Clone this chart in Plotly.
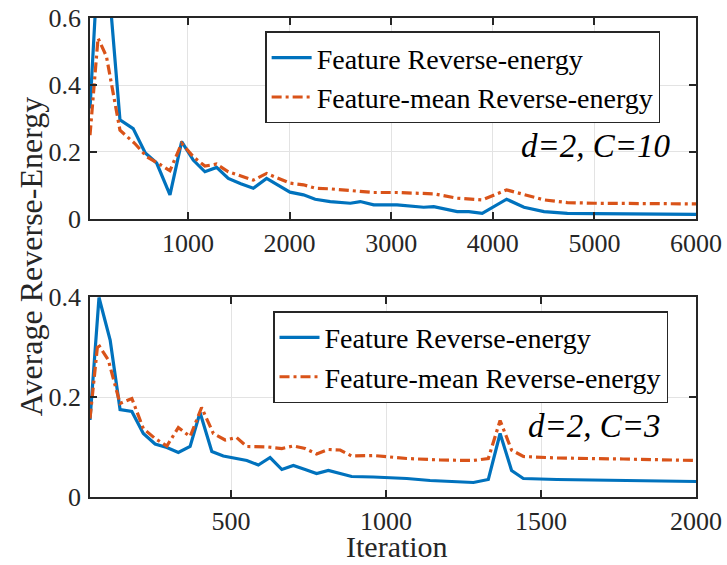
import plotly.graph_objects as go

# ---- data ----
top_blue_x = [36, 150, 331, 461, 580, 692, 823, 938, 1052, 1167, 1282, 1397, 1520, 1643, 1774, 1889, 2004, 2137,
              2252, 2400, 2598, 2696, 2828, 3058, 3320, 3419, 3650, 3764, 3896, 4136, 4307, 4504, 4734, 5000, 5500, 6000]
top_blue_y = [0.33, 0.96, 0.296, 0.27, 0.197, 0.167, 0.072, 0.231, 0.176, 0.141, 0.154, 0.121, 0.105, 0.092, 0.121,
              0.101, 0.080, 0.072, 0.059, 0.052, 0.047, 0.052, 0.042, 0.042, 0.035, 0.037, 0.022, 0.022, 0.017, 0.059,
              0.035, 0.022, 0.017, 0.016, 0.015, 0.014]
top_orange_x = [36, 115, 198, 331, 475, 594, 708, 823, 938, 1052, 1167, 1282, 1397, 1520, 1643, 1774, 1889, 2004,
                2137, 2252, 2400, 2598, 2828, 3058, 3320, 3419, 3650, 3896, 4136, 4307, 4504, 4734, 5000, 5500, 6000]
top_orange_y = [0.25, 0.54, 0.485, 0.265, 0.226, 0.186, 0.166, 0.144, 0.226, 0.186, 0.158, 0.164, 0.141, 0.128,
                0.116, 0.136, 0.121, 0.107, 0.102, 0.092, 0.090, 0.085, 0.079, 0.079, 0.075, 0.075, 0.062, 0.057,
                0.087, 0.072, 0.057, 0.049, 0.047, 0.046, 0.045]

bot_blue_x = [45, 74, 110, 142, 180, 217, 255, 293, 330, 368, 400, 438, 475, 513, 551, 588, 626, 664, 701, 739, 776,
              814, 852, 889, 959, 1067, 1142, 1206, 1282, 1330, 1368, 1405, 1443, 1551, 1750, 2000]
bot_blue_y = [0.154, 0.399, 0.314, 0.175, 0.171, 0.127, 0.106, 0.099, 0.089, 0.101, 0.169, 0.091, 0.082, 0.077,
              0.073, 0.064, 0.079, 0.055, 0.063, 0.055, 0.047, 0.053, 0.047, 0.041, 0.040, 0.037, 0.033, 0.031,
              0.029, 0.035, 0.127, 0.053, 0.037, 0.035, 0.033, 0.031]
bot_orange_x = [45, 70, 104, 142, 180, 217, 255, 293, 330, 368, 405, 443, 481, 518, 551, 620, 664, 701, 739, 776,
                814, 852, 889, 959, 1067, 1175, 1282, 1330, 1368, 1405, 1443, 1551, 1765, 2000]
bot_orange_y = [0.157, 0.307, 0.274, 0.187, 0.197, 0.137, 0.117, 0.102, 0.139, 0.121, 0.179, 0.127, 0.114, 0.119,
                0.101, 0.100, 0.097, 0.102, 0.097, 0.086, 0.095, 0.094, 0.082, 0.083, 0.077, 0.074, 0.073, 0.077,
                0.153, 0.094, 0.081, 0.078, 0.076, 0.073]

name_blue = "Feature Reverse-energy"
name_orange = "Feature-mean Reverse-energy"
top_xticks = [1000, 2000, 3000, 4000, 5000, 6000]
top_yticks = [0, 0.2, 0.4, 0.6]
bot_xticks = [500, 1000, 1500, 2000]
bot_yticks = [0, 0.2, 0.4]

BLUE = "#0072BD"
ORANGE = "#D95319"
FONT = "Liberation Serif"
DASH = "10px,4px,3px,4px"
LW = 3.2

fig = go.Figure()
fig.add_trace(go.Scatter(x=top_blue_x, y=top_blue_y, mode="lines", name=name_blue,
                         line=dict(color=BLUE, width=LW), xaxis="x", yaxis="y", legend="legend"))
fig.add_trace(go.Scatter(x=top_orange_x, y=top_orange_y, mode="lines", name=name_orange,
                         line=dict(color=ORANGE, width=LW, dash=DASH), xaxis="x", yaxis="y", legend="legend"))
fig.add_trace(go.Scatter(x=bot_blue_x, y=bot_blue_y, mode="lines", name=name_blue,
                         line=dict(color=BLUE, width=LW), xaxis="x2", yaxis="y2", legend="legend2"))
fig.add_trace(go.Scatter(x=bot_orange_x, y=bot_orange_y, mode="lines", name=name_orange,
                         line=dict(color=ORANGE, width=LW, dash=DASH), xaxis="x2", yaxis="y2", legend="legend2"))

axis_common = dict(showline=True, linecolor="#262626", linewidth=1.5, mirror="ticks",
                   ticks="inside", ticklen=7, tickwidth=1.5, tickcolor="#262626",
                   showgrid=True, gridcolor="#e3e3e3", gridwidth=1, zeroline=False,
                   automargin=False, ticklabeloverflow="allow",
                   tickfont=dict(family=FONT, size=26, color="#262626"))

legend_common = dict(bgcolor="white", bordercolor="#262626", borderwidth=1.5,
                     font=dict(family=FONT, size=28, color="black"),
                     xanchor="left", yanchor="top", itemwidth=40, tracegroupgap=0)

fig.update_layout(
    width=727, height=565,
    margin=dict(l=90, r=31, t=18, b=68, autoexpand=False),
    paper_bgcolor="white", plot_bgcolor="white",
    showlegend=True,
    xaxis=dict(domain=[0, 1], range=[36, 6000], tickvals=top_xticks, anchor="y",
               ticklabelstandoff=0, **axis_common),
    yaxis=dict(domain=[0.5804, 1.0], range=[0, 0.6], tickvals=top_yticks, anchor="x",
               ticklabelstandoff=2, **axis_common),
    xaxis2=dict(domain=[0, 1], range=[45, 2000], tickvals=bot_xticks, anchor="y2",
                ticklabelstandoff=0, **axis_common),
    yaxis2=dict(domain=[0, 0.4175], range=[0, 0.4], tickvals=bot_yticks, anchor="x2",
                ticklabelstandoff=2, **axis_common),
    legend=dict(x=0.289, y=0.972, **legend_common),
    legend2=dict(x=0.302, y=0.388, **legend_common),
)

fig.add_annotation(text="d=2, C=10", xref="x domain", yref="y domain", x=0.962, y=0.363,
                   xanchor="right", yanchor="middle", showarrow=False,
                   font=dict(family=FONT, size=33, color="black", style="italic"))
fig.add_annotation(text="d=2, C=3", xref="x2 domain", yref="y2 domain", x=0.946, y=0.355,
                   xanchor="right", yanchor="middle", showarrow=False,
                   font=dict(family=FONT, size=33, color="black", style="italic"))
fig.add_annotation(text="Average Reverse-Energy", xref="paper", yref="paper", x=-0.097, y=0.503,
                   xanchor="center", yanchor="middle", textangle=-90, showarrow=False,
                   font=dict(family=FONT, size=32, color="#262626"))
fig.add_annotation(text="Iteration", xref="paper", yref="paper", x=0.506, y=-0.104,
                   xanchor="center", yanchor="middle", showarrow=False,
                   font=dict(family=FONT, size=30, color="#262626"))

# remove the browser's default 8px body margin so the figure fills the window exactly
fig.write_html("out.html", config={"displayModeBar": False},
               post_script="document.body.style.margin='0';document.body.style.overflow='hidden';")
